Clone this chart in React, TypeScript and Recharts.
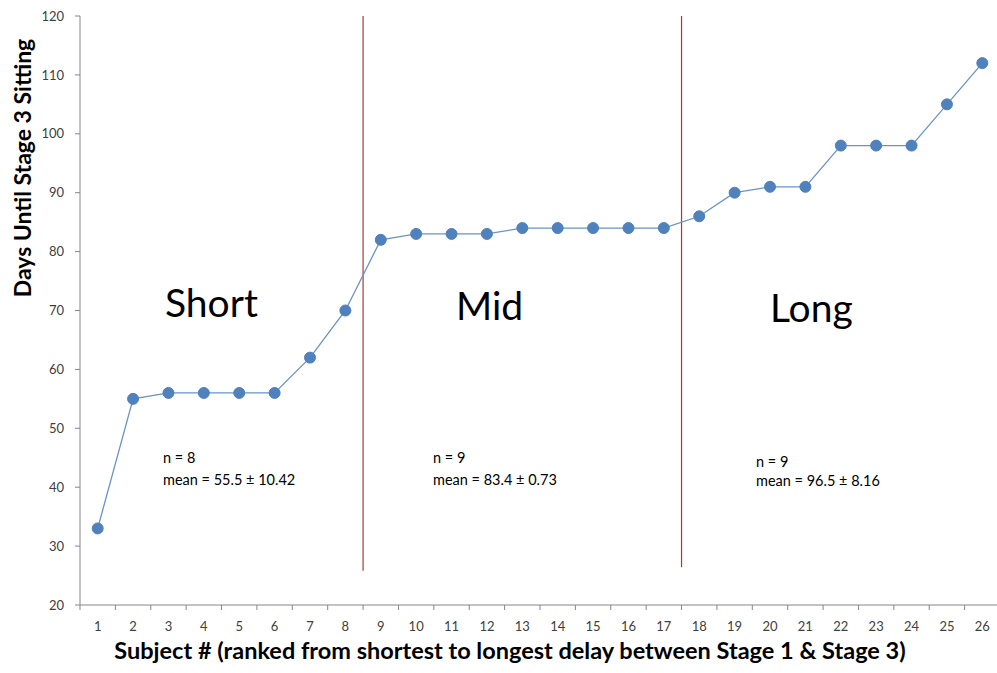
import React from 'react';
import { LineChart, Line, XAxis, YAxis, ReferenceLine } from 'recharts';

const subjects = [1, 2, 3, 4, 5, 6, 7, 8, 9, 10, 11, 12, 13, 14, 15, 16, 17, 18, 19, 20, 21, 22, 23, 24, 25, 26];
const daysUntilStage3 = [33, 55, 56, 56, 56, 56, 62, 70, 82, 83, 83, 83, 84, 84, 84, 84, 84, 86, 90, 91, 91, 98, 98, 98, 105, 112];
const yTicks = [20, 30, 40, 50, 60, 70, 80, 90, 100, 110, 120];

// group boundaries (between subject 8|9 and 17|18)
const groupSplits = [
  { x: 8.5, bottom: 25.8 },
  { x: 17.5, bottom: 26.4 },
];

const groups = [
  { name: 'Short', n: 'n = 8', mean: 'mean = 55.5 ± 10.42' },
  { name: 'Mid', n: 'n = 9', mean: 'mean = 83.4 ± 0.73' },
  { name: 'Long', n: 'n = 9', mean: 'mean = 96.5 ± 8.16' },
];

const data = subjects.map((s, i) => ({ subject: s, days: daysUntilStage3[i] }));

const AXIS = '#868686';
const FONT = 'Lato, "Open Sans", sans-serif';

const CHART_W = 1010;
const CHART_H = 673;
const PLOT_LEFT = 80;
const PLOT_RIGHT = 1000;
const HALF_BAND = (PLOT_RIGHT - PLOT_LEFT) / subjects.length / 2;

const SubjectTick = (props: any) => {
  const { x, y, payload } = props;
  const axisY = y - 17;
  return (
    <g>
      <line x1={x - HALF_BAND} x2={x - HALF_BAND} y1={axisY} y2={axisY + 5} stroke={AXIS} />
      <text x={x} y={y} dy='0.71em' textAnchor='middle' fontSize={13} fill='#404040' fontFamily={FONT}>
        {payload.value}
      </text>
    </g>
  );
};

const groupTextPos = [
  { bigX: 165, bigY: 317, nX: 163, nY: 463, mY: 485 },
  { bigX: 456, bigY: 320, nX: 433, nY: 463, mY: 485 },
  { bigX: 770, bigY: 322, nX: 756, nY: 467, mY: 486 },
];

export default function App() {
  return (
    <div
      style={{
        position: 'absolute',
        left: 0,
        top: 0,
        width: 997,
        height: 673,
        overflow: 'hidden',
        background: '#fff',
        fontFamily: FONT,
      }}
    >
      <LineChart width={CHART_W} height={CHART_H} data={data} margin={{ top: 16, right: 10, left: 0, bottom: 0 }}>
        <XAxis
          dataKey='subject'
          type='number'
          domain={[0.5, 26.5]}
          ticks={subjects}
          interval={0}
          height={68}
          stroke={AXIS}
          tickLine={false}
          tickSize={5}
          tickMargin={12}
          tick={<SubjectTick />}
        />
        <YAxis
          domain={[20, 120]}
          ticks={yTicks}
          interval={0}
          width={80}
          stroke={AXIS}
          tickSize={5}
          tickMargin={11}
          tick={{ fontSize: 13, fill: '#404040', fontFamily: FONT }}
        />
        {groupSplits.map((g) => (
          <ReferenceLine
            key={g.x}
            segment={[
              { x: g.x, y: g.bottom },
              { x: g.x, y: 120 },
            ]}
            stroke='#a83a38'
            strokeWidth={1.2}
          />
        ))}
        <Line
          type='linear'
          dataKey='days'
          stroke='#6a93c6'
          strokeWidth={1.3}
          dot={{ r: 5.5, fill: '#4f81bd', stroke: '#4f81bd', strokeWidth: 1 }}
          isAnimationActive={false}
        />
      </LineChart>

      {groups.map((g, i) => {
        const p = groupTextPos[i];
        return (
          <React.Fragment key={g.name}>
            <div style={{ position: 'absolute', left: p.bigX, top: p.bigY - 38, fontSize: 39, lineHeight: '46px', color: '#000', whiteSpace: 'nowrap' }}>
              {g.name}
            </div>
            <div style={{ position: 'absolute', left: p.nX, top: p.nY - 14, fontSize: 14.5, lineHeight: '18px', color: '#000', whiteSpace: 'nowrap' }}>
              {g.n}
            </div>
            <div style={{ position: 'absolute', left: p.nX, top: p.mY - 14, fontSize: 14.5, lineHeight: '18px', color: '#000', whiteSpace: 'nowrap' }}>
              {g.mean}
            </div>
          </React.Fragment>
        );
      })}

      <div
        style={{
          position: 'absolute',
          left: 22,
          top: 168,
          transform: 'translate(-50%, -50%) rotate(-90deg)',
          fontSize: 23,
          fontWeight: 700,
          whiteSpace: 'nowrap',
          color: '#000',
        }}
      >
        Days Until Stage 3 Sitting
      </div>
      <div
        style={{
          position: 'absolute',
          left: 510,
          top: 650,
          transform: 'translate(-50%, -50%)',
          fontSize: 23.5,
          fontWeight: 700,
          whiteSpace: 'nowrap',
          color: '#000',
        }}
      >
        Subject # (ranked from shortest to longest delay between Stage 1 &amp; Stage 3)
      </div>
    </div>
  );
}
